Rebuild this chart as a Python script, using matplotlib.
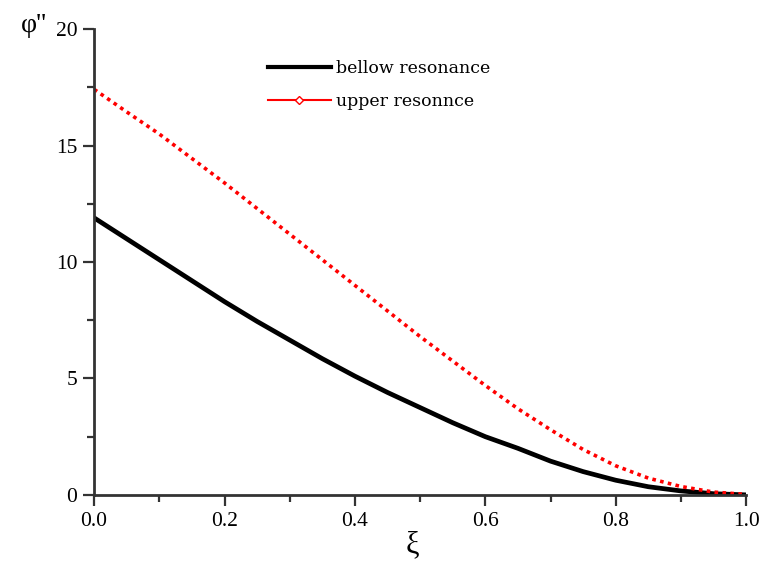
import matplotlib
matplotlib.use("Agg")
import matplotlib.pyplot as plt
from matplotlib.lines import Line2D
from matplotlib.ticker import MultipleLocator

xi = [0.0, 0.05, 0.10, 0.15, 0.20, 0.25, 0.30, 0.35, 0.40, 0.45, 0.50,
      0.55, 0.60, 0.65, 0.70, 0.75, 0.80, 0.85, 0.90, 0.95, 1.0]
below = [11.9, 11.0, 10.1, 9.2, 8.3, 7.45, 6.65, 5.85, 5.1, 4.4, 3.75,
         3.1, 2.5, 2.0, 1.45, 1.0, 0.63, 0.35, 0.17, 0.05, 0.0]
upper = [17.42, 16.45, 15.5, 14.45, 13.4, 12.3, 11.2, 10.1, 9.0, 7.9, 6.8,
         5.75, 4.7, 3.7, 2.8, 1.95, 1.25, 0.72, 0.36, 0.12, 0.02]
labels = ["bellow resonance", "upper resonnce"]

plt.rcParams['font.family'] = ['Liberation Serif', 'DejaVu Serif']

fig = plt.figure(figsize=(7.59, 5.63), dpi=100)
ax = fig.add_axes([0.124, 0.121, 0.859, 0.827])

ax.plot(xi, below, color='black', lw=3.4, solid_joinstyle='round')
ax.plot(xi, upper, color='red', lw=2.6, linestyle=(0, (1, 1.2)))

ax.set_xlim(0, 1.0)
ax.set_ylim(0, 20)
ax.xaxis.set_major_locator(MultipleLocator(0.2))
ax.xaxis.set_minor_locator(MultipleLocator(0.1))
ax.yaxis.set_major_locator(MultipleLocator(5))
ax.yaxis.set_minor_locator(MultipleLocator(2.5))
ax.set_xticklabels([f"{v:.1f}" for v in ax.get_xticks()])

for s in ['top', 'right']:
    ax.spines[s].set_visible(False)
for s in ['left', 'bottom']:
    ax.spines[s].set_linewidth(2)
    ax.spines[s].set_color('#333333')
ax.tick_params(which='major', direction='out', length=8, width=1.6, color='#333333', labelsize=15.5, pad=4)
ax.tick_params(which='minor', direction='out', length=5, width=1.6, color='#333333')

fig.text(0.028, 0.955, "φ''", fontsize=20, ha='left', va='center')
fig.text(0.543, 0.033, "ξ", fontsize=22, ha='center', va='center')

handles = [Line2D([], [], color='black', lw=3),
           Line2D([], [], color='red', lw=1.5, marker='D', markersize=4,
                  markerfacecolor='white', markeredgecolor='red')]
ax.legend(handles, labels, loc='upper left', bbox_to_anchor=(0.243, 0.967),
          frameon=False, prop={'family': 'DejaVu Serif', 'size': 12.5},
          handlelength=3.6, handletextpad=0.3,
          labelspacing=0.9, numpoints=1)

fig.savefig("out.png", dpi=100)
